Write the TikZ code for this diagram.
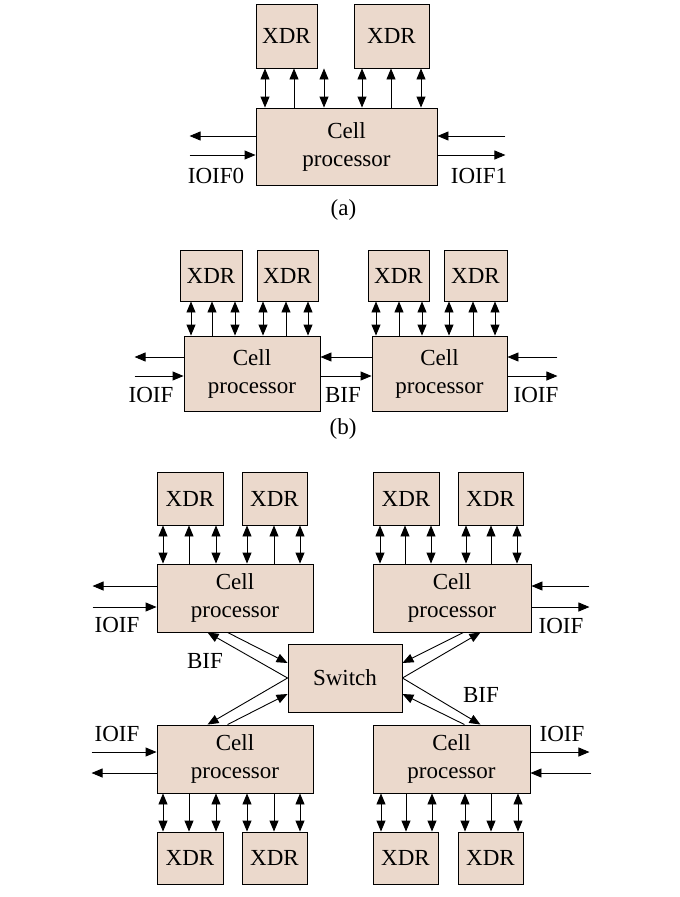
\documentclass[tikz,border=0pt]{standalone}
\usepackage{fontspec}
\setmainfont{Liberation Serif}
\usetikzlibrary{positioning, arrows.meta}

\definecolor{cellfill}{RGB}{235,217,204}

\tikzset{
	blk/.style={draw, fill=cellfill, line width=0.9pt, inner sep=0pt, align=center, font=\fontsize{23}{28}\selectfont},
	xdr/.style={blk, minimum width=65pt, minimum height=53pt},
	cpu/.style={blk, minimum width=156pt, minimum height=68pt},
	lbl/.style={inner sep=0pt, font=\fontsize{23}{28}\selectfont},
	bus/.style={line width=0.9pt, -{Triangle[length=11pt,width=9pt]}},
	bbus/.style={line width=0.9pt, {Triangle[length=11pt,width=9pt]}-{Triangle[length=11pt,width=9pt]}},
}

\begin{document}
\begin{tikzpicture}[x=1pt, y=-1pt]
	\useasboundingbox (0,0) rectangle (680,897);

	% (a)
	\node[xdr, minimum width=61pt, minimum height=64pt] (xa1) at (286.5,36) {XDR};
	\node[xdr, minimum width=75pt, minimum height=64pt] (xa2) at (391.5,36) {XDR};
	\node[cpu, minimum width=181pt, minimum height=77pt] (ca) at (346.5,146.5) {Cell\\processor};

	\foreach \x in {265,324,362,421}
		\draw[bbus] (\x,0 |- xa1.south) -- (\x,0 |- ca.north);
	\foreach \x in {294,391}
		\draw[bus] (\x,0 |- ca.north) -- (\x,0 |- xa1.south);

	\draw[bus] ([yshift=10.5pt]ca.west) -- ++(-66,0);
	\draw[bus] ([xshift=-66pt,yshift=-8.5pt]ca.west) -- ([yshift=-8.5pt]ca.west);
	\draw[bus] ([xshift=68pt,yshift=10.5pt]ca.east) -- ([yshift=10.5pt]ca.east);
	\draw[bus] ([yshift=-8.5pt]ca.east) -- ++(68,0);

	\node[lbl] (ioa0) at (216,176) {IOIF0};
	\node[lbl] (ioa1) at (479,176) {IOIF1};
	\node[lbl, below=14pt of ca, xshift=-3pt] (capa) {(a)};

	% (b)
	\node[xdr, minimum width=62pt, minimum height=51pt] (xb1) at (211,275.5) {XDR};
	\node[xdr, minimum width=61pt, minimum height=51pt] (xb2) at (287.5,275.5) {XDR};
	\node[xdr, minimum width=61pt, minimum height=51pt] (xb3) at (398.5,275.5) {XDR};
	\node[xdr, minimum width=63pt, minimum height=51pt] (xb4) at (475.5,275.5) {XDR};
	\node[cpu, minimum width=136pt, minimum height=75pt] (cb1) at (252,373.5) {Cell\\processor};
	\node[cpu, minimum width=135pt, minimum height=75pt] (cb2) at (439.5,373.5) {Cell\\processor};

	\foreach \x in {191,235,263,308}
		\draw[bbus] (\x,0 |- xb1.south) -- (\x,0 |- cb1.north);
	\foreach \x in {212,286}
		\draw[bus] (\x,0 |- cb1.north) -- (\x,0 |- xb1.south);
	\foreach \x in {376,422,449,495}
		\draw[bbus] (\x,0 |- xb3.south) -- (\x,0 |- cb2.north);
	\foreach \x in {399,473}
		\draw[bus] (\x,0 |- cb2.north) -- (\x,0 |- xb3.south);

	\draw[bus] ([yshift=16.5pt]cb1.west) -- ++(-49,0);
	\draw[bus] ([xshift=-49pt,yshift=-2.5pt]cb1.west) -- ([yshift=-2.5pt]cb1.west);
	\draw[bus] ([yshift=16.5pt]cb2.west) -- ([yshift=16.5pt]cb1.east);
	\draw[bus] ([yshift=-2.5pt]cb1.east) -- ([yshift=-2.5pt]cb2.west);
	\draw[bus] ([xshift=50pt,yshift=16.5pt]cb2.east) -- ([yshift=16.5pt]cb2.east);
	\draw[bus] ([yshift=-2.5pt]cb2.east) -- ++(50,0);

	\node[lbl] (iob1) at (151,395) {IOIF};
	\node[lbl] (bifb) at (343,395) {BIF};
	\node[lbl] (iob2) at (536,395) {IOIF};
	\node[lbl] (capb) at (343,429) {(b)};

	% (c)
	\node[xdr, minimum width=66pt] (xc1) at (190,498.5) {XDR};
	\node[xdr] (xc2) at (274.5,498.5) {XDR};
	\node[xdr, minimum width=66pt] (xc3) at (406,498.5) {XDR};
	\node[xdr] (xc4) at (490.5,498.5) {XDR};
	\node[cpu] (ctl) at (235,598) {Cell\\processor};
	\node[cpu, minimum width=158pt] (ctr) at (452,598) {Cell\\processor};
	\node[blk, minimum width=114pt, minimum height=68pt] (sw) at (345,678) {Switch};
	\node[cpu] (cbl) at (235,759) {Cell\\processor};
	\node[cpu, minimum width=157pt] (cbr) at (451.5,759) {Cell\\processor};
	\node[xdr, minimum width=66pt, minimum height=52pt] (xc5) at (190,858) {XDR};
	\node[xdr, minimum height=52pt] (xc6) at (274.5,858) {XDR};
	\node[xdr, minimum height=52pt] (xc7) at (405.5,858) {XDR};
	\node[xdr, minimum height=52pt] (xc8) at (490.5,858) {XDR};

	\foreach \x in {163,216,247,300}
		\draw[bbus] (\x,0 |- xc1.south) -- (\x,0 |- ctl.north);
	\foreach \x in {189,274}
		\draw[bus] (\x,0 |- ctl.north) -- (\x,0 |- xc1.south);
	\foreach \x in {380,431,466,517}
		\draw[bbus] (\x,0 |- xc3.south) -- (\x,0 |- ctr.north);
	\foreach \x in {405,491}
		\draw[bus] (\x,0 |- ctr.north) -- (\x,0 |- xc3.south);
	\foreach \x in {163,216,247,300}
		\draw[bbus] (\x,0 |- cbl.south) -- (\x,0 |- xc5.north);
	\foreach \x in {189,274}
		\draw[bus] (\x,0 |- cbl.south) -- (\x,0 |- xc5.north);
	\foreach \x in {381,432,465,518}
		\draw[bbus] (\x,0 |- cbr.south) -- (\x,0 |- xc7.north);
	\foreach \x in {406,491}
		\draw[bus] (\x,0 |- cbr.south) -- (\x,0 |- xc7.north);

	\draw[bus] ([yshift=12pt]ctl.west) -- ++(-64,0);
	\draw[bus] ([xshift=-64pt,yshift=-9pt]ctl.west) -- ([yshift=-9pt]ctl.west);
	\draw[bus] ([xshift=58pt,yshift=12pt]ctr.east) -- ([yshift=12pt]ctr.east);
	\draw[bus] ([yshift=-9pt]ctr.east) -- ++(58,0);
	\draw[bus] ([xshift=-65pt,yshift=7pt]cbl.west) -- ([yshift=7pt]cbl.west);
	\draw[bus] ([yshift=-14pt]cbl.west) -- ++(-65,0);
	\draw[bus] ([yshift=7pt]cbr.east) -- ++(59,0);
	\draw[bus] ([xshift=61pt,yshift=-14pt]cbr.east) -- ([yshift=-14pt]cbr.east);

	\draw[bus] (sw.west) -- ([xshift=51pt]ctl.south west);
	\draw[bus] ([xshift=71pt]ctl.south west) -- ([yshift=15pt]sw.west);
	\draw[bus] (sw.west) -- ([xshift=51pt]cbl.north west);
	\draw[bus] ([xshift=71pt]cbl.north west) -- ([yshift=-16pt]sw.west);
	\draw[bus] (sw.east) -- ([xshift=-51pt]ctr.south east);
	\draw[bus] ([xshift=-68pt]ctr.south east) -- ([yshift=15pt]sw.east);
	\draw[bus] (sw.east) -- ([xshift=-50pt]cbr.north east);
	\draw[bus] ([xshift=-66pt]cbr.north east) -- ([yshift=-16pt]sw.east);

	\node[lbl] (ioc1) at (117,625) {IOIF};
	\node[lbl] (ioc2) at (561,626) {IOIF};
	\node[lbl] (bifc1) at (205,661) {BIF};
	\node[lbl] (bifc2) at (481,695) {BIF};
	\node[lbl] (ioc3) at (117,734) {IOIF};
	\node[lbl] (ioc4) at (562,734) {IOIF};
\end{tikzpicture}
\end{document}
